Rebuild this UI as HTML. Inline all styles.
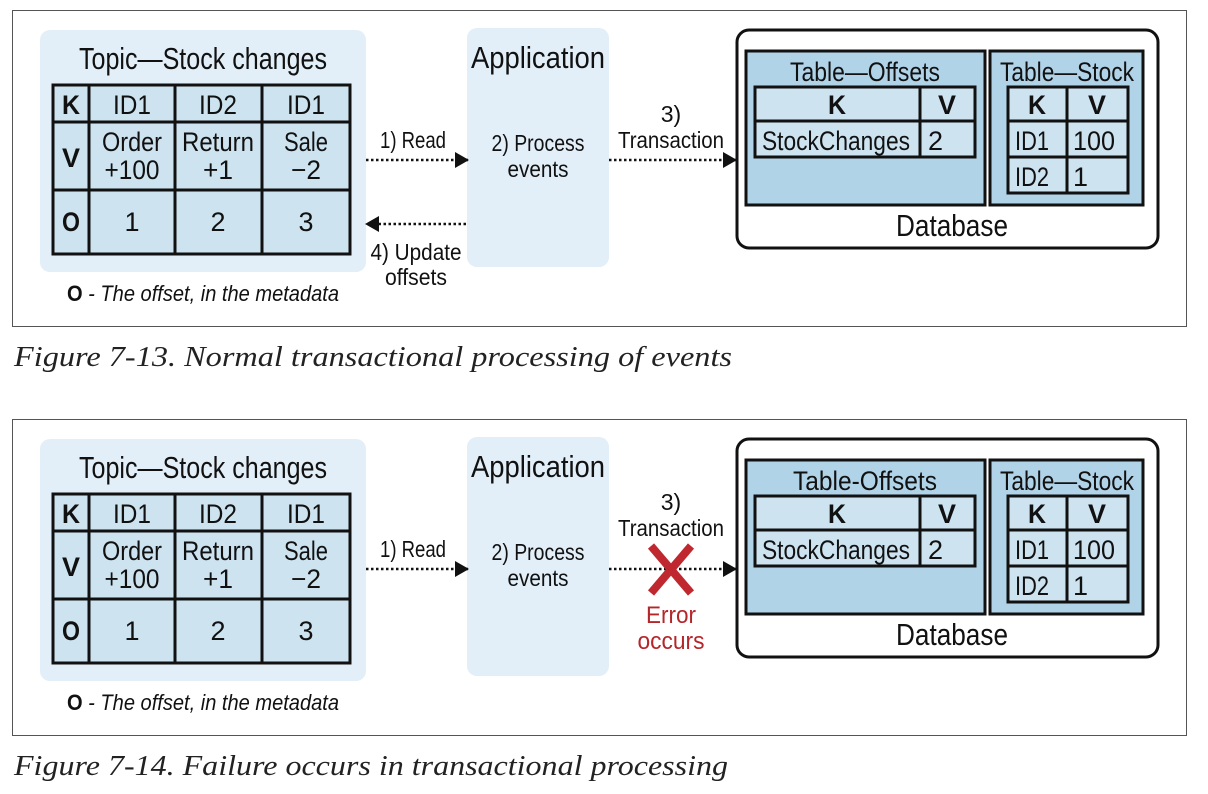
<!DOCTYPE html>
<html><head><meta charset="utf-8"><style>
html,body{margin:0;padding:0;background:#fff;width:1208px;height:794px;overflow:hidden}
svg{display:block}
text{font-family:"Liberation Sans Narrow","Liberation Sans",sans-serif;fill:#111}
.cap{font-family:"Liberation Serif",serif;font-style:italic;font-size:29px;fill:#222}
.b{font-weight:bold}
</style></head><body>
<svg width="1208" height="794" viewBox="0 0 1208 794" xmlns="http://www.w3.org/2000/svg">
<defs>
<marker id="ah" markerWidth="14" markerHeight="16" refX="13" refY="8" orient="auto" markerUnits="userSpaceOnUse"><path d="M0,0 L14,8 L0,16 Z" fill="#111"/></marker>
</defs>

<!-- FRAME 1 -->
<g>
<rect x="12.5" y="10.5" width="1174" height="316" fill="#fff" stroke="#555" stroke-width="1"/>
<rect x="40" y="30" width="326" height="242" rx="10" fill="#e2eff8"/>
<text x="203" y="69" font-size="31" text-anchor="middle" textLength="248" lengthAdjust="spacingAndGlyphs">Topic—Stock changes</text>
<rect x="53" y="85" width="297" height="169" fill="#cde3f0" stroke="#111" stroke-width="3"/>
<path d="M53 122H350M53 190H350M89 85V254M175 85V254M262 85V254" stroke="#111" stroke-width="3"/>
<g font-size="27" text-anchor="middle">
<text x="71" y="114" class="b" textLength="18" lengthAdjust="spacingAndGlyphs">K</text><text x="132" y="114" textLength="38" lengthAdjust="spacingAndGlyphs">ID1</text><text x="218" y="114" textLength="38" lengthAdjust="spacingAndGlyphs">ID2</text><text x="306" y="114" textLength="38" lengthAdjust="spacingAndGlyphs">ID1</text>
<text x="71" y="167" class="b" textLength="18" lengthAdjust="spacingAndGlyphs">V</text>
<text x="132" y="151" textLength="60" lengthAdjust="spacingAndGlyphs">Order</text><text x="132" y="179" textLength="55" lengthAdjust="spacingAndGlyphs">+100</text>
<text x="218" y="151" textLength="72" lengthAdjust="spacingAndGlyphs">Return</text><text x="218" y="179" textLength="30" lengthAdjust="spacingAndGlyphs">+1</text>
<text x="306" y="151" textLength="44" lengthAdjust="spacingAndGlyphs">Sale</text><text x="306" y="179" textLength="30" lengthAdjust="spacingAndGlyphs">−2</text>
<text x="71" y="231" class="b" textLength="18" lengthAdjust="spacingAndGlyphs">O</text><text x="132" y="231">1</text><text x="218" y="231">2</text><text x="306" y="231">3</text>
</g>
<text x="203" y="301" font-size="22" text-anchor="middle" textLength="272" lengthAdjust="spacingAndGlyphs"><tspan class="b">O</tspan><tspan font-style="italic"> - The offset, in the metadata</tspan></text>

<rect x="467" y="28" width="142" height="239" rx="10" fill="#e2eff8"/>
<text x="538" y="68" font-size="31" text-anchor="middle" textLength="134" lengthAdjust="spacingAndGlyphs">Application</text>
<text x="538" y="151" font-size="23" text-anchor="middle" textLength="93" lengthAdjust="spacingAndGlyphs">2) Process</text>
<text x="538" y="177" font-size="23" text-anchor="middle" textLength="61" lengthAdjust="spacingAndGlyphs">events</text>

<line x1="366" y1="160" x2="468" y2="160" stroke="#111" stroke-width="2.5" stroke-dasharray="2.5 2.5" marker-end="url(#ah)"/>
<text x="413" y="148" font-size="23" text-anchor="middle" textLength="66" lengthAdjust="spacingAndGlyphs">1) Read</text>
<line x1="466" y1="224" x2="366" y2="224" stroke="#111" stroke-width="2.5" stroke-dasharray="2.5 2.5" marker-end="url(#ah)"/>
<text x="416" y="260" font-size="23" text-anchor="middle" textLength="91" lengthAdjust="spacingAndGlyphs">4) Update</text>
<text x="416" y="285" font-size="23" text-anchor="middle" textLength="62" lengthAdjust="spacingAndGlyphs">offsets</text>

<text x="671" y="122" font-size="23" text-anchor="middle">3)</text>
<text x="671" y="148" font-size="23" text-anchor="middle" textLength="106" lengthAdjust="spacingAndGlyphs">Transaction</text>
<line x1="609" y1="160" x2="736" y2="160" stroke="#111" stroke-width="2.5" stroke-dasharray="2.5 2.5" marker-end="url(#ah)"/>

<rect x="737" y="30" width="421" height="218" rx="12" fill="#fff" stroke="#111" stroke-width="3"/>
<rect x="746" y="51" width="239" height="154" fill="#b1d3e8" stroke="#111" stroke-width="3"/>
<text x="865" y="81" font-size="27" text-anchor="middle" textLength="150" lengthAdjust="spacingAndGlyphs">Table—Offsets</text>
<rect x="755" y="87" width="220" height="70" fill="#cde3f0" stroke="#111" stroke-width="3"/>
<path d="M755 121H975M920 87V157" stroke="#111" stroke-width="3"/>
<text x="837" y="114" font-size="27" text-anchor="middle" class="b" textLength="18" lengthAdjust="spacingAndGlyphs">K</text>
<text x="947" y="114" font-size="27" text-anchor="middle" class="b" textLength="18" lengthAdjust="spacingAndGlyphs">V</text>
<text x="762" y="150" font-size="27" textLength="148" lengthAdjust="spacingAndGlyphs">StockChanges</text>
<text x="928" y="150" font-size="27">2</text>
<rect x="990" y="51" width="153" height="154" fill="#b1d3e8" stroke="#111" stroke-width="3"/>
<text x="1067" y="81" font-size="27" text-anchor="middle" textLength="134" lengthAdjust="spacingAndGlyphs">Table—Stock</text>
<rect x="1008" y="87" width="120" height="106" fill="#cde3f0" stroke="#111" stroke-width="3"/>
<path d="M1008 121H1128M1008 157H1128M1067 87V193" stroke="#111" stroke-width="3"/>
<text x="1037" y="114" font-size="27" text-anchor="middle" class="b" textLength="18" lengthAdjust="spacingAndGlyphs">K</text>
<text x="1097" y="114" font-size="27" text-anchor="middle" class="b" textLength="18" lengthAdjust="spacingAndGlyphs">V</text>
<text x="1015" y="150" font-size="27" textLength="34" lengthAdjust="spacingAndGlyphs">ID1</text>
<text x="1073" y="150" font-size="27" textLength="42" lengthAdjust="spacingAndGlyphs">100</text>
<text x="1015" y="186" font-size="27" textLength="34" lengthAdjust="spacingAndGlyphs">ID2</text>
<text x="1073" y="186" font-size="27">1</text>
<text x="952" y="236" font-size="31" text-anchor="middle" textLength="112" lengthAdjust="spacingAndGlyphs">Database</text>
</g>
<text x="14" y="366" class="cap" textLength="718" lengthAdjust="spacingAndGlyphs">Figure 7-13. Normal transactional processing of events</text>

<!-- FRAME 2 -->
<g transform="translate(0,409)">
<rect x="12.5" y="10.5" width="1174" height="316" fill="#fff" stroke="#555" stroke-width="1"/>
<rect x="40" y="30" width="326" height="242" rx="10" fill="#e2eff8"/>
<text x="203" y="69" font-size="31" text-anchor="middle" textLength="248" lengthAdjust="spacingAndGlyphs">Topic—Stock changes</text>
<rect x="53" y="85" width="297" height="169" fill="#cde3f0" stroke="#111" stroke-width="3"/>
<path d="M53 122H350M53 190H350M89 85V254M175 85V254M262 85V254" stroke="#111" stroke-width="3"/>
<g font-size="27" text-anchor="middle">
<text x="71" y="114" class="b" textLength="18" lengthAdjust="spacingAndGlyphs">K</text><text x="132" y="114" textLength="38" lengthAdjust="spacingAndGlyphs">ID1</text><text x="218" y="114" textLength="38" lengthAdjust="spacingAndGlyphs">ID2</text><text x="306" y="114" textLength="38" lengthAdjust="spacingAndGlyphs">ID1</text>
<text x="71" y="167" class="b" textLength="18" lengthAdjust="spacingAndGlyphs">V</text>
<text x="132" y="151" textLength="60" lengthAdjust="spacingAndGlyphs">Order</text><text x="132" y="179" textLength="55" lengthAdjust="spacingAndGlyphs">+100</text>
<text x="218" y="151" textLength="72" lengthAdjust="spacingAndGlyphs">Return</text><text x="218" y="179" textLength="30" lengthAdjust="spacingAndGlyphs">+1</text>
<text x="306" y="151" textLength="44" lengthAdjust="spacingAndGlyphs">Sale</text><text x="306" y="179" textLength="30" lengthAdjust="spacingAndGlyphs">−2</text>
<text x="71" y="231" class="b" textLength="18" lengthAdjust="spacingAndGlyphs">O</text><text x="132" y="231">1</text><text x="218" y="231">2</text><text x="306" y="231">3</text>
</g>
<text x="203" y="301" font-size="22" text-anchor="middle" textLength="272" lengthAdjust="spacingAndGlyphs"><tspan class="b">O</tspan><tspan font-style="italic"> - The offset, in the metadata</tspan></text>

<rect x="467" y="28" width="142" height="239" rx="10" fill="#e2eff8"/>
<text x="538" y="68" font-size="31" text-anchor="middle" textLength="134" lengthAdjust="spacingAndGlyphs">Application</text>
<text x="538" y="151" font-size="23" text-anchor="middle" textLength="93" lengthAdjust="spacingAndGlyphs">2) Process</text>
<text x="538" y="177" font-size="23" text-anchor="middle" textLength="61" lengthAdjust="spacingAndGlyphs">events</text>

<line x1="366" y1="160" x2="468" y2="160" stroke="#111" stroke-width="2.5" stroke-dasharray="2.5 2.5" marker-end="url(#ah)"/>
<text x="413" y="148" font-size="23" text-anchor="middle" textLength="66" lengthAdjust="spacingAndGlyphs">1) Read</text>

<text x="671" y="101" font-size="23" text-anchor="middle">3)</text>
<text x="671" y="127" font-size="23" text-anchor="middle" textLength="106" lengthAdjust="spacingAndGlyphs">Transaction</text>
<line x1="609" y1="160" x2="736" y2="160" stroke="#111" stroke-width="2.5" stroke-dasharray="2.5 2.5" marker-end="url(#ah)"/>
<path d="M651 137L691 184M691 137L651 184" stroke="#c0282f" stroke-width="8"/>
<text x="671" y="214" font-size="24" text-anchor="middle" textLength="50" lengthAdjust="spacingAndGlyphs" style="fill:#b5262b">Error</text>
<text x="671" y="240" font-size="24" text-anchor="middle" textLength="67" lengthAdjust="spacingAndGlyphs" style="fill:#b5262b">occurs</text>

<rect x="737" y="30" width="421" height="218" rx="12" fill="#fff" stroke="#111" stroke-width="3"/>
<rect x="746" y="51" width="239" height="154" fill="#b1d3e8" stroke="#111" stroke-width="3"/>
<text x="865" y="81" font-size="27" text-anchor="middle" textLength="144" lengthAdjust="spacingAndGlyphs">Table-Offsets</text>
<rect x="755" y="87" width="220" height="70" fill="#cde3f0" stroke="#111" stroke-width="3"/>
<path d="M755 121H975M920 87V157" stroke="#111" stroke-width="3"/>
<text x="837" y="114" font-size="27" text-anchor="middle" class="b" textLength="18" lengthAdjust="spacingAndGlyphs">K</text>
<text x="947" y="114" font-size="27" text-anchor="middle" class="b" textLength="18" lengthAdjust="spacingAndGlyphs">V</text>
<text x="762" y="150" font-size="27" textLength="148" lengthAdjust="spacingAndGlyphs">StockChanges</text>
<text x="928" y="150" font-size="27">2</text>
<rect x="990" y="51" width="153" height="154" fill="#b1d3e8" stroke="#111" stroke-width="3"/>
<text x="1067" y="81" font-size="27" text-anchor="middle" textLength="134" lengthAdjust="spacingAndGlyphs">Table—Stock</text>
<rect x="1008" y="87" width="120" height="106" fill="#cde3f0" stroke="#111" stroke-width="3"/>
<path d="M1008 121H1128M1008 157H1128M1067 87V193" stroke="#111" stroke-width="3"/>
<text x="1037" y="114" font-size="27" text-anchor="middle" class="b" textLength="18" lengthAdjust="spacingAndGlyphs">K</text>
<text x="1097" y="114" font-size="27" text-anchor="middle" class="b" textLength="18" lengthAdjust="spacingAndGlyphs">V</text>
<text x="1015" y="150" font-size="27" textLength="34" lengthAdjust="spacingAndGlyphs">ID1</text>
<text x="1073" y="150" font-size="27" textLength="42" lengthAdjust="spacingAndGlyphs">100</text>
<text x="1015" y="186" font-size="27" textLength="34" lengthAdjust="spacingAndGlyphs">ID2</text>
<text x="1073" y="186" font-size="27">1</text>
<text x="952" y="236" font-size="31" text-anchor="middle" textLength="112" lengthAdjust="spacingAndGlyphs">Database</text>
</g>
<text x="14" y="775" class="cap" textLength="714" lengthAdjust="spacingAndGlyphs">Figure 7-14. Failure occurs in transactional processing</text>
</svg>
</body></html>
